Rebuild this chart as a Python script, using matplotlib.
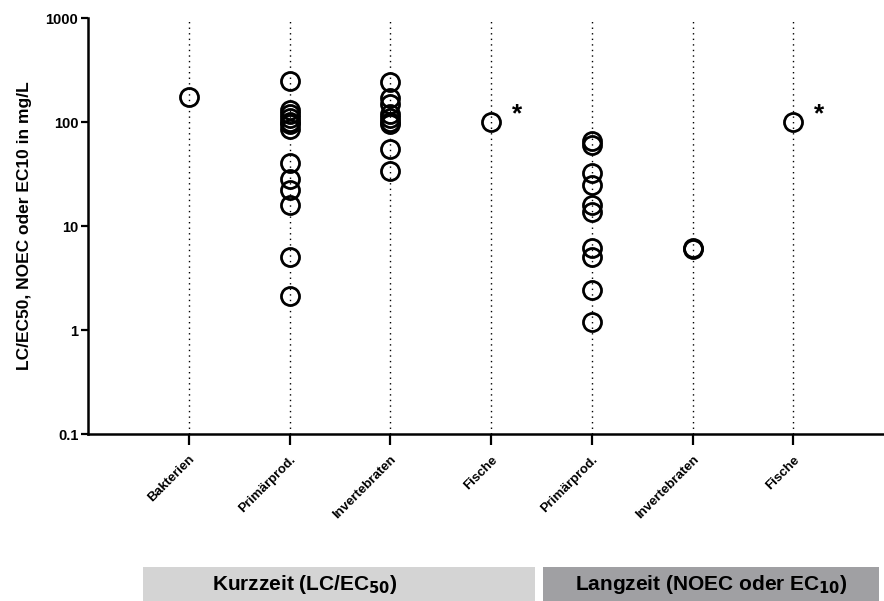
import numpy as np
import matplotlib
matplotlib.use('Agg')
import matplotlib.pyplot as plt
from matplotlib.patches import Rectangle

plt.rcParams['font.family'] = ['Liberation Sans', 'DejaVu Sans']

# Categories (x positions 1..7) and values
categories = ['Bakterien', 'Primärprod.', 'Invertebraten', 'Fische',
              'Primärprod.', 'Invertebraten', 'Fische']
bakterien_kurz = [175]
primaer_kurz = [250, 130, 120, 110, 100, 95, 85, 40, 28, 22, 16, 5.0, 2.1]
invert_kurz = [240, 170, 150, 120, 110, 100, 95, 55, 34]
fische_kurz = [100]
primaer_lang = [65, 60, 32, 25, 16, 13.5, 6.2, 5.0, 2.4, 1.2]
invert_lang = [6.2, 6.0]
fische_lang = [100]
series = [bakterien_kurz, primaer_kurz, invert_kurz, fische_kurz,
          primaer_lang, invert_lang, fische_lang]
star_at = [4, 7]
yticks = [0.1, 1, 10, 100, 1000]

fig = plt.figure(figsize=(8.84, 6.01), dpi=100)
ax = fig.add_axes([88/884, 1 - 434/601, 1 - 88/884, (434 - 18)/601])

# dotted guide lines at each category
for i in range(len(categories)):
    ax.plot([i + 1, i + 1], [0.1, 1000], color='black', linestyle=(0, (1, 3)),
            linewidth=1.0, zorder=1)

for i, vals in enumerate(series):
    ax.plot(np.full(len(vals), i + 1), vals, 'o', markersize=13,
            markerfacecolor='none', markeredgecolor='black',
            markeredgewidth=2.0, zorder=3)

for i in star_at:
    ax.text(i + 0.26, fische_kurz[0] * 1.18, '*', fontsize=19,
            fontweight='bold', ha='center', va='center')

ax.set_yscale('log')
ax.set_ylim(0.1, 1000)
ax.set_xlim(0, 7.9)
ax.set_yticks(yticks)
ax.set_yticklabels(['0.1', '1', '10', '100', '1000'], fontsize=10.5,
                   fontweight='bold')
ax.yaxis.set_minor_locator(matplotlib.ticker.NullLocator())
ax.set_xticks(np.arange(1, len(categories) + 1))
ax.set_xticklabels(categories, rotation=45, ha='right', va='top',
                   rotation_mode='anchor', fontsize=9.5, fontweight='bold')
ax.tick_params(axis='both', direction='out', width=1.6, color='black')
ax.tick_params(axis='y', length=5, pad=2)
ax.tick_params(axis='x', length=8, pad=6)
ax.spines['top'].set_visible(False)
ax.spines['right'].set_visible(False)
for s in ['left', 'bottom']:
    ax.spines[s].set_linewidth(1.8)
ax.set_ylabel('LC/EC50, NOEC oder EC10 in mg/L', fontsize=12.5,
              fontweight='bold', labelpad=10)

# group boxes below the axis
fig.patches.append(Rectangle((143/884, 0), (535 - 143)/884, (601 - 567)/601,
                             transform=fig.transFigure, facecolor='#d4d4d4',
                             edgecolor='none'))
fig.patches.append(Rectangle((543/884, 0), (879 - 543)/884, (601 - 567)/601,
                             transform=fig.transFigure, facecolor='#a0a0a3',
                             edgecolor='none'))
fig.text(305/884, 1 - 584/601, 'Kurzzeit (LC/EC$_{\\mathbf{50}}$)', fontsize=15,
         fontweight='bold', ha='center', va='center')
fig.text(711/884, 1 - 584/601, 'Langzeit (NOEC oder EC$_{\\mathbf{10}}$)',
         fontsize=15, fontweight='bold', ha='center', va='center')

fig.savefig('out.png', dpi=100)
